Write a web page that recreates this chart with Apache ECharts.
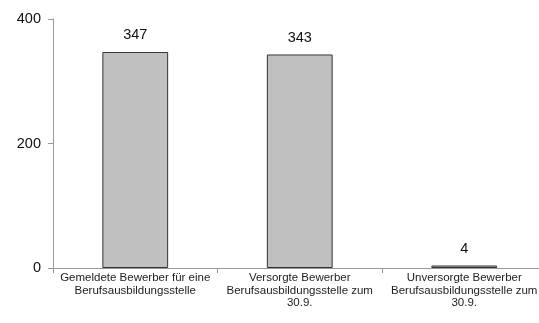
<!DOCTYPE html>
<html>
<head>
<meta charset="utf-8">
<script src="https://cdn.jsdelivr.net/npm/echarts@6/dist/echarts.min.js"></script>
<style>
html,body{margin:0;padding:0;background:#fff;}
#chart{width:539px;height:323px;}
</style>
</head>
<body>
<div id="chart"></div>
<script>
var categories = [
    'Gemeldete Bewerber für eine\nBerufsausbildungsstelle',
    'Versorgte Bewerber\nBerufsausbildungsstelle zum\n30.9.',
    'Unversorgte Bewerber\nBerufsausbildungsstelle zum\n30.9.'
];
var values = [347, 343, 4];
var yTicks = [0, 200, 400];

var myChart = echarts.init(document.getElementById('chart'));
var option = {
    animation: false,
    textStyle: { fontFamily: 'Liberation Sans, Arial, sans-serif' },
    grid: { left: 53, right: -7.5, top: 19, bottom: 55, outerBoundsMode: 'none', containLabel: false },
    xAxis: {
        type: 'category',
        data: categories,
        axisLine: { lineStyle: { color: '#999' } },
        axisTick: { show: true, length: 5, lineStyle: { color: '#999' } },
        axisLabel: { color: '#222', fontSize: 11.5, lineHeight: 12.5, margin: 4, interval: 0 }
    },
    yAxis: {
        type: 'value',
        min: 0,
        max: 400,
        interval: 200,
        splitLine: { show: false },
        axisLine: { show: true, lineStyle: { color: '#999' } },
        axisTick: { show: true, length: 5, lineStyle: { color: '#999' } },
        axisLabel: { color: '#111', fontSize: 14.5, margin: 12 }
    },
    series: [{
        type: 'bar',
        data: values,
        barWidth: '40%',
        itemStyle: { color: '#c0c0c0', borderColor: '#333', borderWidth: 1 },
        label: { show: true, position: 'top', distance: 9, color: '#111', fontSize: 14.5 }
    }]
};
myChart.setOption(option);
</script>
</body>
</html>
